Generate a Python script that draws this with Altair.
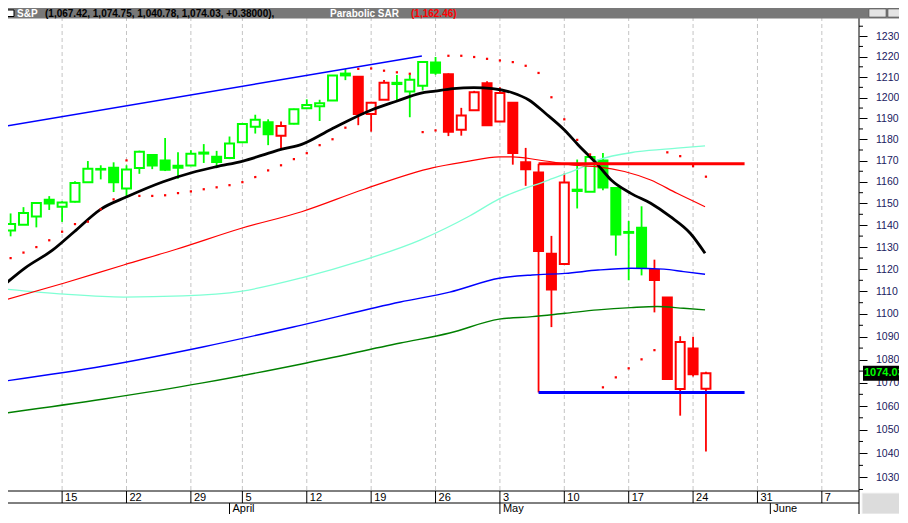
import altair as alt
import pandas as pd

GREEN = "#00FF00"
RED = "#FF0000"
BLUE = "#0000FF"

# ---------------- data ----------------
dates = ["Mar 9", "Mar 10", "Mar 11", "Mar 12", "Mar 15", "Mar 16", "Mar 17", "Mar 18", "Mar 19",
         "Mar 22", "Mar 23", "Mar 24", "Mar 25", "Mar 26", "Mar 29", "Mar 30", "Mar 31",
         "Apr 1", "Apr 5", "Apr 6", "Apr 7", "Apr 8", "Apr 9", "Apr 12", "Apr 13", "Apr 14",
         "Apr 15", "Apr 16", "Apr 19", "Apr 20", "Apr 21", "Apr 22", "Apr 23", "Apr 26",
         "Apr 27", "Apr 28", "Apr 29", "Apr 30",
         "May 3", "May 4", "May 5", "May 6", "May 7", "May 10", "May 11", "May 12", "May 13",
         "May 14", "May 17", "May 18", "May 19", "May 20", "May 21", "May 24", "May 25"]

opens = [1137.6, 1140.2, 1144.0, 1151.7, 1148.5, 1150.8, 1159.9, 1166.1, 1166.7, 1157.0, 1166.5,
         1172.7, 1170.0, 1167.6, 1167.7, 1173.8, 1171.8,
         1171.2, 1178.7, 1186.0, 1188.2, 1181.8, 1187.5, 1194.9, 1195.9, 1198.7, 1210.8, 1210.2,
         1192.1, 1199.0, 1207.2, 1203.0, 1205.8, 1217.1, 1211.4, 1184.6, 1193.9, 1207.0,
         1188.6, 1197.5, 1169.2, 1164.4, 1127.0, 1122.3, 1156.4, 1155.4, 1170.0, 1157.2, 1136.5,
         1138.8, 1119.6, 1107.3, 1067.3, 1084.8, 1067.42]
highs = [1145.4, 1148.3, 1150.2, 1153.4, 1151.0, 1160.3, 1169.8, 1167.8, 1169.2, 1167.8, 1174.7,
         1173.0, 1180.7, 1173.9, 1174.9, 1177.8, 1174.6,
         1181.4, 1187.7, 1191.8, 1189.6, 1188.6, 1194.7, 1199.2, 1199.0, 1210.7, 1213.9, 1210.2,
         1197.9, 1208.6, 1211.0, 1211.2, 1217.3, 1219.8, 1211.8, 1195.1, 1203.3, 1208.0,
         1205.1, 1197.5, 1176.0, 1168.5, 1135.1, 1163.9, 1170.5, 1172.9, 1173.6, 1157.2, 1141.9,
         1148.7, 1124.3, 1107.3, 1090.2, 1090.0, 1074.75]
lows = [1134.9, 1140.1, 1139.0, 1147.0, 1141.5, 1150.4, 1159.9, 1161.2, 1155.3, 1153.0, 1163.8,
        1166.0, 1165.1, 1161.5, 1167.7, 1168.9, 1167.0,
        1170.7, 1178.7, 1182.8, 1177.3, 1175.1, 1187.2, 1194.7, 1188.8, 1198.7, 1208.5, 1186.8,
        1183.7, 1199.0, 1198.9, 1190.6, 1203.5, 1211.1, 1181.6, 1181.8, 1193.9, 1186.5,
        1188.6, 1168.1, 1158.2, 1065.8, 1094.2, 1122.3, 1147.7, 1155.4, 1156.1, 1126.1, 1115.0,
        1117.2, 1100.7, 1071.6, 1055.9, 1072.7, 1040.78]
closes = [1140.5, 1145.6, 1150.2, 1150.0, 1150.5, 1159.5, 1166.2, 1165.8, 1159.9, 1165.8, 1174.2,
          1167.7, 1165.7, 1166.6, 1173.2, 1173.3, 1169.4,
          1178.1, 1187.4, 1189.4, 1182.5, 1186.4, 1194.4, 1196.5, 1197.3, 1210.7, 1211.7, 1192.1,
          1197.5, 1207.2, 1206.6, 1208.7, 1217.3, 1212.1, 1183.7, 1191.4, 1202.6, 1186.8,
          1202.3, 1173.6, 1165.9, 1128.2, 1110.9, 1159.7, 1155.8, 1171.7, 1157.4, 1135.7, 1136.9,
          1120.8, 1115.1, 1071.6, 1087.7, 1073.65, 1074.03]
trend = list("ggggggggggggggggggggg" "r" "ggggg" "rrr" "gggg" "rrrrrrrrrr" "gggggg" "rrrrr")

# Parabolic SAR dots (one per bar)
sar = [1125.0, 1127.5, 1130.0, 1133.1, 1137.0, 1140.5, 1141.6, 1147.3, 1151.9, 1170.1, 1153.5,
       1153.5, 1153.8, 1154.8, 1155.6, 1156.6, 1157.5, 1158.5, 1159.9, 1162.3, 1165.4, 1167.8,
       1170.7, 1173.5, 1177.3, 1180.1, 1185.6, 1214.0, 1214.2, 1213.1, 1212.3, 1211.6, 1183.5,
       1184.3, 1220.4, 1220.4, 1219.8, 1218.9, 1218.1, 1217.3, 1215.5, 1212.0, 1200.2, 1189.6,
       1179.8, 1172.9, 1068.0, 1072.3, 1076.2, 1080.1, 1084.1, 1173.9, 1172.1, 1167.4, 1162.46]

# moving-average curves (bar index, value)
black_i = [-0.43, 1.11, 3.28, 4.94, 6.99, 9.03, 11.85, 14.05, 15.94, 18.04, 20.04, 21.07, 22.6,
           24.9, 28.02, 30.02, 31.8, 32.98, 34.36, 35.97, 37.43, 38.97, 40.25, 41.53, 43.01,
           44.08, 45.62, 46.64, 48.17, 49.71, 51.24, 52.78, 53.93]
black_v = [1113.3, 1120.5, 1128.7, 1137.0, 1147.3, 1153.1, 1160.1, 1164.3, 1167.1, 1169.8, 1173.5,
           1175.4, 1177.7, 1184.9, 1194.1, 1198.4, 1202.1, 1203.2, 1204.4, 1204.9, 1204.4,
           1202.4, 1198.9, 1192.5, 1184.5, 1177.4, 1167.9, 1160.9, 1154.7, 1150.1, 1143.9,
           1136.3, 1127.2]
red_i = [-0.43, 4.18, 8.78, 12.87, 17.99, 22.6, 27.45, 32.83, 35.39, 37.94, 38.97, 41.02, 44.08,
         45.62, 47.67, 49.71, 51.75, 53.93]
red_v = [1106.2, 1113.8, 1121.9, 1129.0, 1138.7, 1146.2, 1156.6, 1166.7, 1169.5, 1171.8, 1171.8,
         1170.3, 1167.7, 1167.1, 1164.9, 1160.9, 1154.7, 1148.5]
cyan_i = [-0.43, 4.18, 8.78, 13.39, 17.99, 22.6, 27.2, 31.8, 35.64, 37.94, 41.78, 44.08, 45.62,
          48.69, 51.75, 53.93]
cyan_v = [1111.1, 1108.8, 1107.5, 1108.0, 1110.2, 1116.1, 1123.7, 1133.2, 1144.2, 1152.1, 1160.9,
          1166.1, 1170.3, 1174.2, 1175.9, 1177.0]
bluema_i = [-0.43, 7.25, 14.92, 22.6, 30.27, 34.1, 37.94, 40.5, 43.06, 45.62, 48.18, 50.74,
            52.27, 53.93]
bluema_v = [1070.7, 1077.2, 1085.5, 1095.1, 1105.3, 1109.7, 1115.9, 1117.4, 1118.1, 1119.6,
            1120.4, 1120.0, 1118.9, 1117.7]
green_i = [-0.43, 7.25, 14.92, 22.6, 30.27, 34.1, 37.94, 40.5, 43.06, 45.62, 48.18, 50.21,
           52.27, 53.93]
green_v = [1057.0, 1063.0, 1069.9, 1078.1, 1087.2, 1091.6, 1097.7, 1098.8, 1100.3, 1101.8,
           1102.8, 1103.3, 1102.5, 1101.8]
channel_i = [-0.43, 31.94]
channel_v = [1186.3, 1220.3]

# horizontal support / resistance lines (May 6 high & low)
hl_kind = ["high", "low"]
hl_start = [41, 41]
hl_end = [57, 57]
hl_value = [1168.5, 1065.8]

# axis texts
week_idx = [-1, 4, 9, 14, 18, 23, 28, 33, 38, 43, 48, 53, 58, 63]
week_lbl = ["8", "15", "22", "29", "5", "12", "19", "26", "3", "10", "17", "24", "31", "7"]
month_idx = [17, 38, 59]
month_lbl = ["April", "May", "June"]
y_major = [1030, 1040, 1050, 1060, 1070, 1080, 1090, 1100, 1110, 1120, 1130, 1140, 1150, 1160,
           1170, 1180, 1190, 1200, 1210, 1220, 1230]
y_minor = [1025, 1035, 1045, 1055, 1065, 1075, 1085, 1095, 1105, 1115, 1125, 1135, 1145, 1155,
           1165, 1175, 1185, 1195, 1205, 1215, 1225, 1235]
sar_last = 1162.46

# ---------------- chart ----------------
W, H = 850, 474
R1 = 12   # first date row height
R2 = 11   # month row height
AXFONT = "Liberation Sans"
xscale = alt.Scale(domain=[0.186, 65.42], nice=False, zero=False)
yscale = alt.Scale(type="log", domain=[1024.38, 1239.59], nice=False, zero=False)
yaxis = alt.Axis(orient="right", values=y_major, tickSize=8, tickColor="black", tickWidth=1,
                 domain=False, grid=False, labelFont=AXFONT, labelFontSize=10.5,
                 labelColor="#202060", labelPadding=8.5, offset=1, title=None,
                 labelAlign="left", labelBaseline="middle", labelOverlap=False,
                 labelFlush=False, format="d")


def X(f):
    return alt.X(f"{f}:Q", scale=xscale, axis=None)


def Y(f):
    return alt.Y(f"{f}:Q", scale=yscale, axis=yaxis)


bars = pd.DataFrame({"idx": list(range(len(dates))), "date": dates, "open": opens,
                     "high": highs, "low": lows, "close": closes, "trend": trend})
sar_df = pd.DataFrame({"idx": list(range(len(sar))), "sar": sar})
weeks = pd.DataFrame({"idx": week_idx, "lbl": week_lbl})
months = pd.DataFrame({"idx": month_idx, "lbl": month_lbl})
hl = pd.DataFrame({"kind": hl_kind, "s": hl_start, "e": hl_end, "v": hl_value})
one = pd.DataFrame({"a": [0]})

trend_scale = alt.Scale(domain=["g", "r"], range=[GREEN, RED])

grid = alt.Chart(weeks).mark_rule(color="#c4c4c4", strokeDash=[4, 3], strokeWidth=1).encode(
    x=X("idx"))

wicks = alt.Chart(bars).mark_rule(strokeWidth=1.8).encode(
    x=X("idx"), y=Y("low"), y2="high",
    color=alt.Color("trend:N", scale=trend_scale, legend=None))

bodies = alt.Chart(bars).transform_calculate(
    fillcat="datum.close >= datum.open ? 'hollow' : datum.trend"
).mark_bar(width=9, strokeWidth=2).encode(
    x=X("idx"), y=Y("open"), y2="close",
    fill=alt.Fill("fillcat:N", scale=alt.Scale(domain=["hollow", "g", "r"],
                                               range=["white", GREEN, RED]), legend=None),
    stroke=alt.Stroke("trend:N", scale=trend_scale, legend=None))


def curve(xs, ys, color, width, interp="monotone"):
    df = pd.DataFrame({"i": xs, "v": ys})
    return alt.Chart(df).mark_line(color=color, strokeWidth=width, interpolate=interp).encode(
        x=X("i"), y=Y("v"))


lines = [
    curve(channel_i, channel_v, BLUE, 1.4, "linear"),
    curve(green_i, green_v, "#008000", 1.4),
    curve(bluema_i, bluema_v, BLUE, 1.4),
    curve(cyan_i, cyan_v, "#7FFFD4", 1.3),
    curve(red_i, red_v, RED, 1.2),
    curve(black_i, black_v, "black", 2.8),
]

hline_hi = alt.Chart(hl).transform_filter("datum.kind == 'high'").mark_rule(
    color=RED, strokeWidth=3).encode(x=X("s"), x2="e", y=Y("v"))
hline_lo = alt.Chart(hl).transform_filter("datum.kind == 'low'").mark_rule(
    color=BLUE, strokeWidth=3).encode(x=X("s"), x2="e", y=Y("v"))

dots = alt.Chart(sar_df).mark_square(size=5, color=RED, opacity=1).encode(
    x=X("idx"), y=Y("sar"))

# ---- frame and date axis (drawn by hand, positions from the x scale) ----
base_line = alt.Chart(one).mark_rule(color="black", strokeWidth=1).encode(
    x=alt.value(0), x2=alt.value(W + 1), y=alt.value(H))
mid_line = alt.Chart(one).mark_rule(color="black", strokeWidth=1).encode(
    x=alt.value(0), x2=alt.value(W + 1), y=alt.value(H + R1))
right_line = alt.Chart(one).mark_rule(color="black", strokeWidth=1).encode(
    x=alt.value(W + 1), y=alt.value(0), y2=alt.value(H + R1 + R2))
week_sep = alt.Chart(weeks).mark_rule(color="black", strokeWidth=1).encode(
    x=X("idx"), y=alt.value(H), y2=alt.value(H + R1))
week_txt = alt.Chart(weeks).mark_text(align="left", baseline="middle", dx=3, fontSize=11,
                                      font=AXFONT, color="black").encode(
    x=X("idx"), y=alt.value(H + R1 / 2 + 0.5), text="lbl:N")
month_sep = alt.Chart(months).mark_rule(color="black", strokeWidth=1).encode(
    x=X("idx"), y=alt.value(H + R1), y2=alt.value(H + R1 + R2))
month_txt = alt.Chart(months).mark_text(align="left", baseline="middle", dx=3, fontSize=11,
                                        font=AXFONT, color="black").encode(
    x=X("idx"), y=alt.value(H + R1 + R2 / 2 + 0.5), text="lbl:N")
minor = alt.Chart(pd.DataFrame({"m": y_minor})).mark_rule(color="black").encode(
    x=alt.value(W + 1), x2=alt.value(W + 5), y=Y("m"))
corner = alt.Chart(one).mark_rect(fill="#dcdcdc", stroke="#f4f4f4", strokeWidth=1).encode(
    x=alt.value(W + 4), x2=alt.value(W + 45), y=alt.value(H + 2), y2=alt.value(H + R1 + R2))

last = pd.DataFrame({"v": [closes[-1]], "t": [f"{closes[-1]:.3f}"]})
tag = alt.Chart(last).mark_tick(orient="horizontal", size=46, thickness=15, color="black",
                                opacity=1).encode(x=alt.value(W + 28), y=Y("v"))
tag_txt = alt.Chart(last).mark_text(align="left", baseline="middle", fontSize=11,
                                    font="Liberation Sans", fontWeight="bold",
                                    color=GREEN).encode(
    x=alt.value(W + 6), y=Y("v"), text="t:N")

# ---- header bar ----
o, h, l, c = opens[-1], highs[-1], lows[-1], closes[-1]
chg = c - closes[-2]
seg2 = f"({o:,.2f}, {h:,.2f}, {l:,.2f}, {c:,.2f}, +{chg:.5f}),"
seg4 = f"({sar_last:,.2f})"

bar_bg = alt.Chart(one).mark_rect(fill="#787878").encode(
    x=alt.value(0), x2=alt.value(900), y=alt.value(-9), y2=alt.value(1.5))
icon = alt.Chart(one).mark_rect(fill="white", stroke="black", strokeWidth=1).encode(
    x=alt.value(-6), x2=alt.value(6), y=alt.value(-7), y2=alt.value(-0.5))
btn1 = alt.Chart(one).mark_rect(fill="#e4e4e4", stroke="#505050", strokeWidth=0.6).encode(
    x=alt.value(861), x2=alt.value(878), y=alt.value(-8), y2=alt.value(0))
btn2 = alt.Chart(one).mark_rect(fill="#e4e4e4", stroke="#505050", strokeWidth=0.6).encode(
    x=alt.value(880), x2=alt.value(897), y=alt.value(-8), y2=alt.value(0))


def htext(txt, x, color):
    return alt.Chart(one).mark_text(text=txt, align="left", baseline="middle", fontSize=10,
                                    font="Liberation Sans", fontWeight="bold",
                                    color=color).encode(
        x=alt.value(x), y=alt.value(-3.2))


header = [bar_bg, icon, btn1, btn2,
          htext("S&P", 9, "white"), htext(seg2, 37, "black"),
          htext("Parabolic SAR", 322, "white"), htext(seg4, 403, RED)]

chart = alt.layer(
    grid, wicks, bodies, *lines, hline_hi, hline_lo, dots,
    base_line, mid_line, right_line, week_sep, week_txt, month_sep, month_txt, minor, corner,
    tag, tag_txt, *header
).properties(
    width=W, height=H,
    padding={"left": 0, "top": 9, "right": 41, "bottom": R1 + R2},
    autosize=alt.AutoSizeParams(type="none"),
    background="white",
).configure_view(stroke=None)

chart.save("out.html", embed_options={"renderer": "svg", "actions": False})
